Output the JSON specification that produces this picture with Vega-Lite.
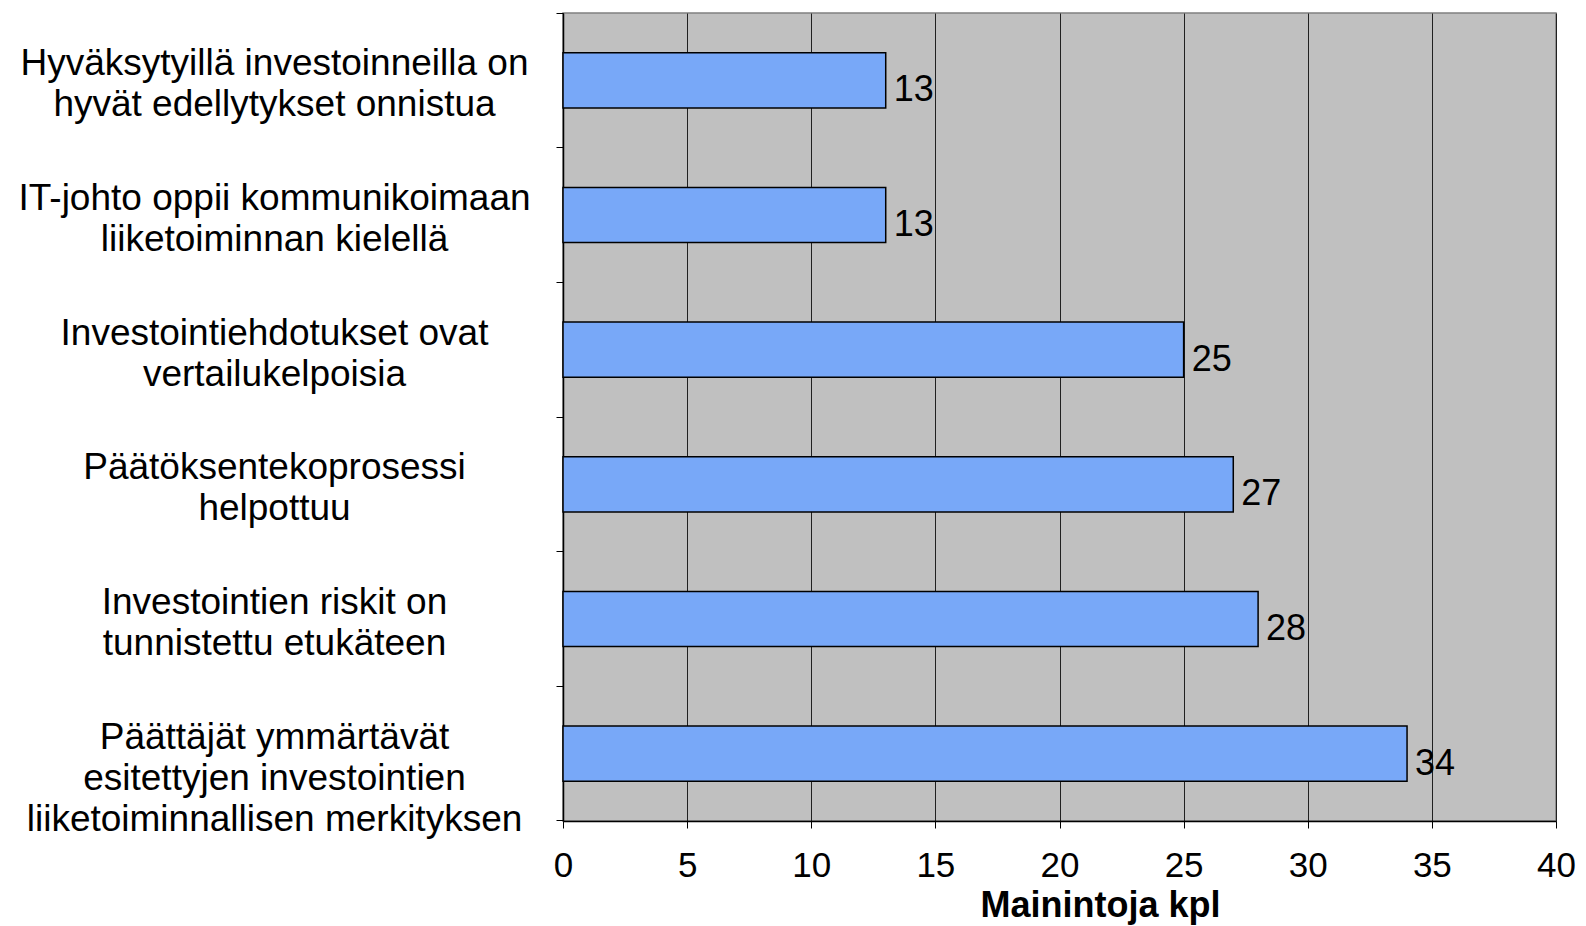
{
  "$schema": "https://vega.github.io/schema/vega-lite/v6.json",
  "autosize": {"type": "none"},
  "width": 993,
  "height": 808,
  "padding": {"left": 563, "top": 13, "right": 30, "bottom": 105},
  "background": "white",
  "config": {
    "font": "Liberation Sans",
    "view": {"fill": "#C0C0C0", "stroke": "#808080", "strokeWidth": 1.5}
  },
  "data": {
    "values": [
      {"cat": "Hyväksytyillä investoinneilla on|hyvät edellytykset onnistua", "v": 13},
      {"cat": "IT-johto oppii kommunikoimaan|liiketoiminnan kielellä", "v": 13},
      {"cat": "Investointiehdotukset ovat|vertailukelpoisia", "v": 25},
      {"cat": "Päätöksentekoprosessi|helpottuu", "v": 27},
      {"cat": "Investointien riskit on|tunnistettu etukäteen", "v": 28},
      {"cat": "Päättäjät ymmärtävät|esitettyjen investointien|liiketoiminnallisen merkityksen", "v": 34}
    ]
  },
  "encoding": {
    "y": {
      "field": "cat",
      "type": "nominal",
      "sort": null,
      "scale": {"paddingInner": 0, "paddingOuter": 0},
      "axis": {
        "title": null,
        "labelExpr": "split(datum.label, '|')",
        "labelFont": "Liberation Sans",
        "labelFontSize": 37,
        "labelColor": "black",
        "labelLineHeight": 41,
        "labelAlign": "center",
        "labelBaseline": "middle",
        "labelOffset": -16,
        "labelPadding": 282,
        "labelLimit": 700,
        "bandPosition": 1,
        "tickExtra": true,
        "tickSize": 7,
        "tickColor": "black",
        "tickWidth": 1,
        "domainColor": "black",
        "domainWidth": 1.5,
        "grid": false
      }
    },
    "x": {
      "field": "v",
      "type": "quantitative",
      "scale": {"domain": [0, 40], "nice": false},
      "axis": {
        "values": [0, 5, 10, 15, 20, 25, 30, 35, 40],
        "title": "Mainintoja kpl",
        "titleFont": "Liberation Sans",
        "titleFontSize": 36,
        "titleFontWeight": "bold",
        "titleColor": "black",
        "titleX": 537,
        "titleY": 95,
        "titleAlign": "center",
        "titleBaseline": "alphabetic",
        "labelFont": "Liberation Sans",
        "labelFontSize": 35,
        "labelColor": "black",
        "labelPadding": 20,
        "labelDx": 10,
        "labelBaseline": "top",
        "labelFlush": false,
        "tickSize": 7,
        "tickColor": "black",
        "tickWidth": 1,
        "domainColor": "black",
        "domainWidth": 1.5,
        "grid": true,
        "gridColor": "#202020",
        "gridWidth": 1
      }
    }
  },
  "layer": [
    {
      "mark": {"type": "bar", "height": {"band": 0.41}, "fill": "#78A8F8", "stroke": "black", "strokeWidth": 1.5}
    },
    {
      "mark": {"type": "text", "align": "left", "baseline": "middle", "dx": 8, "dy": 10, "fontSize": 36, "font": "Liberation Sans", "color": "black"},
      "encoding": {"text": {"field": "v", "type": "quantitative"}}
    }
  ]
}
